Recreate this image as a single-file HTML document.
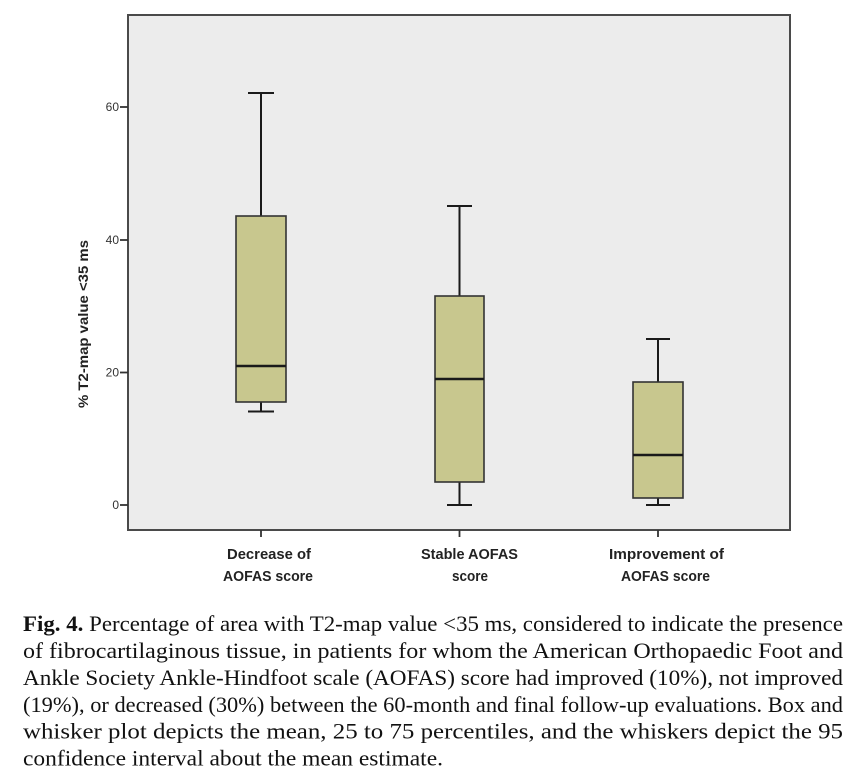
<!DOCTYPE html>
<html>
<head>
<meta charset="utf-8">
<style>
  html, body { margin:0; padding:0; background:#ffffff; }
  svg { display:block; }
</style>
</head>
<body>
<svg width="852" height="780" viewBox="0 0 852 780" xmlns="http://www.w3.org/2000/svg">
  <rect x="0" y="0" width="852" height="780" fill="#ffffff"/>
  <!-- plot area -->
  <rect x="128" y="15" width="662" height="515" fill="#ececec" stroke="#4a4a4a" stroke-width="2"/>

  <!-- y ticks -->
  <g stroke="#333" stroke-width="1.8">
    <line x1="120" y1="107" x2="128" y2="107"/>
    <line x1="120" y1="240" x2="128" y2="240"/>
    <line x1="120" y1="372.5" x2="128" y2="372.5"/>
    <line x1="120" y1="505" x2="128" y2="505"/>
  </g>
  <g font-family="Liberation Sans, sans-serif" font-size="12" fill="#333" text-anchor="end">
    <text x="119" y="111">60</text>
    <text x="119" y="244">40</text>
    <text x="119" y="376.5">20</text>
    <text x="119" y="509">0</text>
  </g>

  <!-- y axis label -->
  <text transform="translate(88,324) rotate(-90)" font-family="Liberation Sans, sans-serif" font-weight="bold" font-size="13.5" fill="#222" text-anchor="middle" textLength="168" lengthAdjust="spacingAndGlyphs">% T2-map value &lt;35 ms</text>

  <!-- x ticks -->
  <g stroke="#333" stroke-width="1.8">
    <line x1="261" y1="530" x2="261" y2="537"/>
    <line x1="459.5" y1="530" x2="459.5" y2="537"/>
    <line x1="658" y1="530" x2="658" y2="537"/>
  </g>

  <!-- boxes -->
  <g stroke="#1a1a1a" stroke-width="2" fill="none">
    <!-- box 1 -->
    <line x1="261" y1="93" x2="261" y2="216"/>
    <line x1="248" y1="93" x2="274" y2="93"/>
    <line x1="261" y1="402" x2="261" y2="411.5"/>
    <line x1="248" y1="411.5" x2="274" y2="411.5"/>
    <rect x="236" y="216" width="50" height="186" fill="#c8c78e" stroke="#333" stroke-width="1.6"/>
    <line x1="236" y1="366" x2="286" y2="366" stroke-width="2.6"/>

    <!-- box 2 -->
    <line x1="459.5" y1="206" x2="459.5" y2="296"/>
    <line x1="447" y1="206" x2="472" y2="206"/>
    <line x1="459.5" y1="482" x2="459.5" y2="505"/>
    <line x1="447" y1="505" x2="472" y2="505"/>
    <rect x="435" y="296" width="49" height="186" fill="#c8c78e" stroke="#333" stroke-width="1.6"/>
    <line x1="435" y1="379" x2="484" y2="379" stroke-width="2.6"/>

    <!-- box 3 -->
    <line x1="658" y1="339" x2="658" y2="382"/>
    <line x1="646" y1="339" x2="670" y2="339"/>
    <line x1="658" y1="498" x2="658" y2="505"/>
    <line x1="646" y1="505" x2="670" y2="505"/>
    <rect x="633" y="382" width="50" height="116" fill="#c8c78e" stroke="#333" stroke-width="1.6"/>
    <line x1="633" y1="455" x2="683" y2="455" stroke-width="2.6"/>
  </g>

  <!-- x labels -->
  <g font-family="Liberation Sans, sans-serif" font-weight="bold" font-size="14.5" fill="#222" text-anchor="middle">
    <text x="269" y="559" textLength="84" lengthAdjust="spacingAndGlyphs">Decrease of</text>
    <text x="268" y="581" textLength="90" lengthAdjust="spacingAndGlyphs">AOFAS score</text>
    <text x="469.5" y="559" textLength="97" lengthAdjust="spacingAndGlyphs">Stable AOFAS</text>
    <text x="470" y="581" textLength="36" lengthAdjust="spacingAndGlyphs">score</text>
    <text x="666.5" y="559" textLength="115" lengthAdjust="spacingAndGlyphs">Improvement of</text>
    <text x="665.5" y="581" textLength="89" lengthAdjust="spacingAndGlyphs">AOFAS score</text>
  </g>

  <!-- caption -->
  <g font-family="Liberation Serif, serif" font-size="22.5" fill="#111">
    <text x="23" y="631" textLength="820" lengthAdjust="spacingAndGlyphs"><tspan font-weight="bold">Fig. 4.</tspan> Percentage of area with T2-map value &lt;35 ms, considered to indicate the presence</text>
    <text x="23" y="658" textLength="820" lengthAdjust="spacingAndGlyphs">of fibrocartilaginous tissue, in patients for whom the American Orthopaedic Foot and</text>
    <text x="23" y="685" textLength="820" lengthAdjust="spacingAndGlyphs">Ankle Society Ankle-Hindfoot scale (AOFAS) score had improved (10%), not improved</text>
    <text x="23" y="712" textLength="820" lengthAdjust="spacingAndGlyphs">(19%), or decreased (30%) between the 60-month and final follow-up evaluations. Box and</text>
    <text x="23" y="738.5" textLength="820" lengthAdjust="spacingAndGlyphs">whisker plot depicts the mean, 25 to 75 percentiles, and the whiskers depict the 95</text>
    <text x="23" y="765.5" textLength="420" lengthAdjust="spacingAndGlyphs">confidence interval about the mean estimate.</text>
  </g>
</svg>
</body>
</html>
